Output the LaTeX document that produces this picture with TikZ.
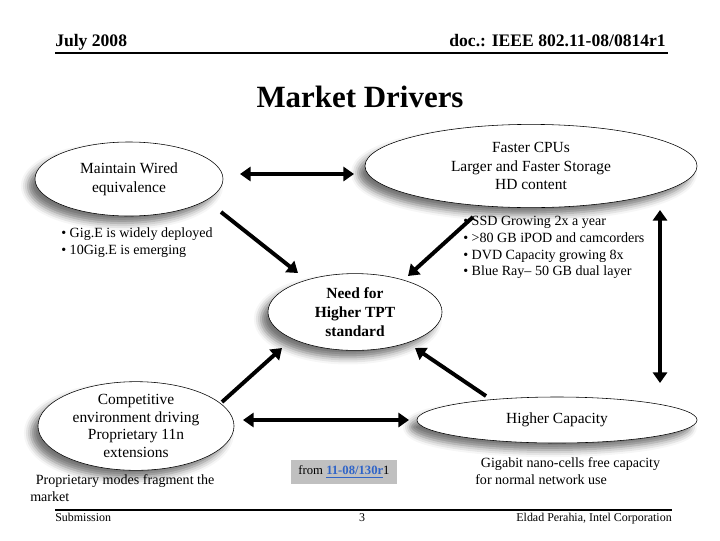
\documentclass[tikz,border=0pt]{standalone}
\usepackage{fontspec}
\setmainfont{Liberation Serif}
\usepackage{xcolor}
\usetikzlibrary{arrows.meta,shapes.geometric,shadows.blur}

\definecolor{linkblue}{HTML}{2F64C8}
\definecolor{boxgray}{HTML}{C0C0C0}

\begin{document}
\begin{tikzpicture}[x=0.025cm, y=-0.025cm,
  driver/.style={ellipse, draw, thin, fill=white, inner sep=0pt, align=center,
    font=\fontsize{11}{13.3}\selectfont,
    blur shadow={shadow xshift=-5pt, shadow yshift=-5pt, shadow blur radius=5pt, shadow opacity=55}},
  arrow/.style={-{Triangle[length=7.5pt,width=10pt]}, line width=2.8pt},
  dblarrow/.style={{Triangle[length=7.5pt,width=10pt]}-{Triangle[length=7.5pt,width=10pt]}, line width=2.8pt},
  note/.style={align=left, inner sep=0pt, font=\fontsize{10}{12}\selectfont}
]
\useasboundingbox (0,0) rectangle (720,540);

% header and title
\node[anchor=base west, inner sep=0pt, font=\fontsize{12.5}{15}\selectfont\bfseries] (date) at (55,46) {July 2008};
\node[anchor=base east, inner sep=0pt, font=\fontsize{12.5}{15}\selectfont\bfseries] (doc) at (666,46) {doc.: IEEE 802.11-08/0814r1};
\coordinate (hl) at (55,53);
\coordinate (hr) at (668,53);
\draw[line width=1pt] (hl) -- (hr);
\node[font=\fontsize{22}{26}\selectfont\bfseries] (title) at (360,97) {Market Drivers};

% drivers
\node[driver, minimum width=4.7cm, minimum height=1.85cm] (wired) at (129,179) {Maintain Wired\\equivalence};
\node[driver, minimum width=8.3cm, minimum height=2.08cm] (cpu) at (531,166) {Faster CPUs\\Larger and Faster Storage\\HD content};
\node[driver, minimum width=4.35cm, minimum height=1.92cm, font=\fontsize{11}{13.3}\selectfont\bfseries] (need) at (355,312) {Need for\\Higher TPT\\standard};
\node[driver, minimum width=4.9cm, minimum height=1.92cm, font=\fontsize{11}{12.4}\selectfont] (comp) at (136,426) {Competitive\\environment driving\\Proprietary 11n\\extensions};
\node[driver, minimum width=7cm, minimum height=1.15cm] (cap) at (557,420) {Higher Capacity};

% notes
\node[note, anchor=west] (gig) at (61,242.5) {\textbullet{} Gig.E is widely deployed\\\textbullet{} 10Gig.E is emerging};
\node[note, anchor=west] (ssd) at (463,247.5) {\textbullet{} SSD Growing 2x a year\\\textbullet{} >80 GB iPOD  and camcorders\\\textbullet{} DVD Capacity growing 8x\\\textbullet{} Blue Ray-- 50 GB dual layer};
\node[note, anchor=west] (frag) at (30,488.5) {\hspace*{4pt}Proprietary modes fragment the\\market};
\node[note, anchor=west] (nano) at (475,471.5) {\hspace*{4pt}Gigabit nano-cells free capacity\\for normal network use};
\node[fill=boxgray, inner xsep=5pt, inner ysep=4pt, font=\fontsize{9}{11}\selectfont] (src) at (344,472) {from \textcolor{linkblue}{\textbf{\underline{11-08/130r}}}1};

% arrow ends
\coordinate (ab1) at (240,174);
\coordinate (ab2) at (354,174);
\coordinate (wt) at (221,212);
\coordinate (wh) at (298,273);
\coordinate (ct) at (473,217);
\coordinate (ch) at (408,276);
\coordinate (dt) at (222,402);
\coordinate (dh) at (282,348);
\coordinate (et) at (486,396);
\coordinate (eh) at (415,348);
\coordinate (de1) at (243,420);
\coordinate (de2) at (409,420);
\coordinate (v1) at (660,210);
\coordinate (v2) at (660,383);

\draw[dblarrow] (ab1) -- (ab2);
\draw[arrow] (wt) -- (wh);
\draw[arrow] (ct) -- (ch);
\draw[arrow] (dt) -- (dh);
\draw[arrow] (et) -- (eh);
\draw[dblarrow] (de1) -- (de2);
\draw[dblarrow] (v1) -- (v2);

% footer
\coordinate (fl) at (55,510);
\coordinate (fr) at (672,510);
\draw[line width=1.4pt] (fl) -- (fr);
\node[anchor=base west, inner sep=0pt, font=\fontsize{8.5}{10}\selectfont] (sub) at (55,521) {Submission};
\node[anchor=base, inner sep=0pt, font=\fontsize{8.5}{10}\selectfont] (page) at (362,521) {3};
\node[anchor=base east, inner sep=0pt, font=\fontsize{8.5}{10}\selectfont] (author) at (672,521) {Eldad Perahia, Intel Corporation};
\end{tikzpicture}
\end{document}
